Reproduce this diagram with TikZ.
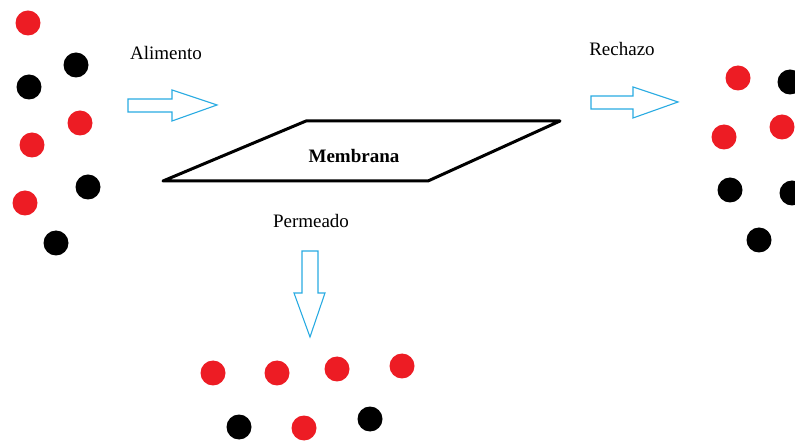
\documentclass[tikz,border=0pt]{standalone}
\usepackage{fontspec}
\setmainfont{Liberation Serif}
\begin{document}
\begin{tikzpicture}[x=1pt,y=-1pt,
  dot/.style={circle,inner sep=0pt,minimum size=25pt},
  rdot/.style={dot,fill=dotred},
  bdot/.style={dot,fill=black},
  flow/.style={draw=flowblue,line width=1.1pt,line join=miter,fill=white},
  lbl/.style={font=\fontsize{19}{22}\selectfont,inner sep=0pt},
  membrane/.style={draw=black,line width=3pt,line join=round}]
\definecolor{dotred}{RGB}{237,28,36}
\definecolor{flowblue}{RGB}{41,171,226}
\useasboundingbox (0,0) rectangle (795,443);

% feed mixture
\node[rdot] (f1) at (28,23) {};
\node[bdot] (f2) at (76,65) {};
\node[bdot] (f3) at (29,87) {};
\node[rdot] (f4) at (80,123) {};
\node[rdot] (f5) at (32,145) {};
\node[bdot] (f6) at (88,187) {};
\node[rdot] (f7) at (25,203) {};
\node[bdot] (f8) at (56,243) {};

% retentate
\node[rdot] (r1) at (738,78) {};
\node[bdot] (r2) at (790,82) {};
\node[rdot] (r3) at (782,127) {};
\node[rdot] (r4) at (724,137) {};
\node[bdot] (r5) at (730,190) {};
\node[bdot] (r6) at (792,193) {};
\node[bdot] (r7) at (759,240) {};

% permeate
\node[rdot] (p1) at (213,373) {};
\node[rdot] (p2) at (277,373) {};
\node[rdot] (p3) at (337,369) {};
\node[rdot] (p4) at (402,366) {};
\node[bdot] (p5) at (239,427) {};
\node[rdot] (p6) at (304,428) {};
\node[bdot] (p7) at (370,419) {};

% labels
\node[lbl] (alim) at (166,53) {Alimento};
\node[lbl] (rech) at (622,49) {Rechazo};
\node[lbl] (perm) at (311,221) {Permeado};

% block arrows
\draw[flow] (128,99) -- (172,99) -- (172,90) -- (217,105) -- (172,121) -- (172,112) -- (128,112) -- cycle;
\draw[flow] (591,96) -- (633,96) -- (633,87) -- (678,102) -- (633,118) -- (633,109) -- (591,109) -- cycle;
\draw[flow] (302,251) -- (318,251) -- (318,293) -- (325,293) -- (310,337) -- (294,293) -- (302,293) -- cycle;

% membrane sheet
\draw[membrane] (163,181) -- (306,121) -- (560,121) -- (428,181) -- cycle;
\node[lbl,font=\fontsize{19}{22}\selectfont\bfseries] (memb) at (354,156) {Membrana};
\end{tikzpicture}
\end{document}
